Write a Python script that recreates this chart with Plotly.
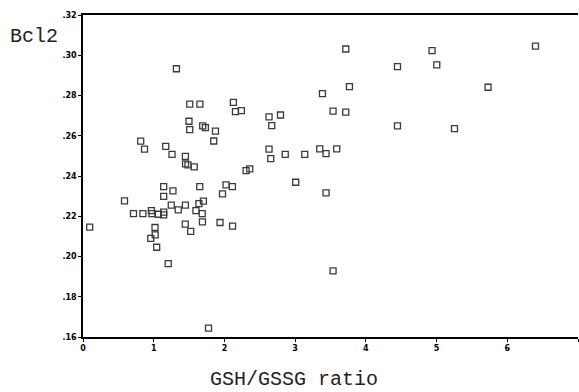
import plotly.graph_objects as go

# GSH/GSSG ratio (x) and Bcl2 (y)
gsh_gssg_ratio = [
    0.095, 0.587, 0.714, 0.847, 0.967, 0.975, 1.066, 1.141, 1.141, 1.018,
    1.021, 0.958, 1.042, 1.205, 1.141, 1.141, 1.272, 1.248, 1.347, 1.448,
    1.597, 1.639, 1.703, 1.686, 1.689, 1.446, 1.523, 1.651, 1.938, 2.115,
    2.023, 2.113, 1.973, 1.775, 0.816, 0.870, 1.170, 1.259, 1.448, 1.450,
    1.484, 1.573, 1.509, 1.653, 2.127, 2.156, 2.240, 1.499, 1.509, 1.693,
    1.731, 1.873, 1.849, 1.321, 2.306, 2.358, 2.631, 2.793, 2.669, 2.631,
    2.655, 2.860, 3.136, 3.008, 3.348, 3.437, 3.588, 3.437, 3.536, 3.386,
    3.768, 3.536, 3.716, 3.716, 4.447, 4.447, 4.936, 5.003, 5.253, 5.728,
    6.399,
]
bcl2 = [
    0.2146, 0.2276, 0.2213, 0.2213, 0.2228, 0.2213, 0.2210, 0.2220, 0.2207, 0.2144,
    0.2107, 0.2090, 0.2046, 0.1965, 0.2347, 0.2299, 0.2326, 0.2255, 0.2232, 0.2255,
    0.2228, 0.2263, 0.2275, 0.2213, 0.2172, 0.2161, 0.2125, 0.2347, 0.2169, 0.2151,
    0.2356, 0.2347, 0.2311, 0.1644, 0.2573, 0.2534, 0.2547, 0.2507, 0.2498, 0.2460,
    0.2455, 0.2445, 0.2757, 0.2757, 0.2766, 0.2720, 0.2725, 0.2672, 0.2630, 0.2649,
    0.2640, 0.2623, 0.2574, 0.2933, 0.2427, 0.2435, 0.2694, 0.2703, 0.2650, 0.2534,
    0.2486, 0.2507, 0.2507, 0.2369, 0.2535, 0.2511, 0.2535, 0.2316, 0.1929, 0.2809,
    0.2844, 0.2722, 0.2717, 0.3031, 0.2943, 0.2649, 0.3023, 0.2952, 0.2635, 0.2841,
    0.3045,
]

x_ticks = [0, 1, 2, 3, 4, 5, 6, 7]
x_ticklabels = ["0", "1", "2", "3", "4", "5", "6", "7"]
y_ticks = [0.16, 0.18, 0.20, 0.22, 0.24, 0.26, 0.28, 0.30, 0.32]
y_ticklabels = [".16", ".18", ".20", ".22", ".24", ".26", ".28", ".30", ".32"]

fig = go.Figure()
fig.add_trace(go.Scatter(
    x=gsh_gssg_ratio, y=bcl2, mode="markers",
    marker=dict(symbol="square-open", size=6, color="#3a3a3a",
                line=dict(width=1.3, color="#3a3a3a")),
    showlegend=False, hoverinfo="skip", cliponaxis=False,
))

tickfont = dict(family="DejaVu Sans", size=8, color="black", weight="bold")

fig.update_layout(
    width=579, height=392,
    margin=dict(l=83, r=1, t=15, b=55, autoexpand=False),
    paper_bgcolor="white", plot_bgcolor="white",
    xaxis=dict(range=[0, 7], tickvals=x_ticks, ticktext=x_ticklabels,
               showline=True, linecolor="black", linewidth=1.5, mirror=True,
               ticks="outside", ticklen=3, tickcolor="black", tickwidth=1,
               showgrid=False, zeroline=False, tickfont=tickfont,
               automargin=False),
    yaxis=dict(range=[0.16, 0.32], tickvals=y_ticks, ticktext=y_ticklabels,
               showline=True, linecolor="black", linewidth=1.5, mirror=False,
               ticks="outside", ticklen=3, tickcolor="black", tickwidth=1,
               showgrid=False, zeroline=False, tickfont=tickfont,
               automargin=False),
    annotations=[
        dict(text="Bcl2", xref="paper", yref="paper", x=-0.152, y=0.932,
             xanchor="left", yanchor="middle", showarrow=False,
             font=dict(family="Liberation Mono", size=20, color="#222")),
        dict(text="GSH/GSSG ratio", xref="paper", yref="paper", x=0.253, y=-0.133,
             xanchor="left", yanchor="middle", showarrow=False,
             font=dict(family="Liberation Mono", size=20, color="#222")),
    ],
)

fig.write_html("out.html", config={"displayModeBar": False},
               post_script="document.body.style.margin='0';")
